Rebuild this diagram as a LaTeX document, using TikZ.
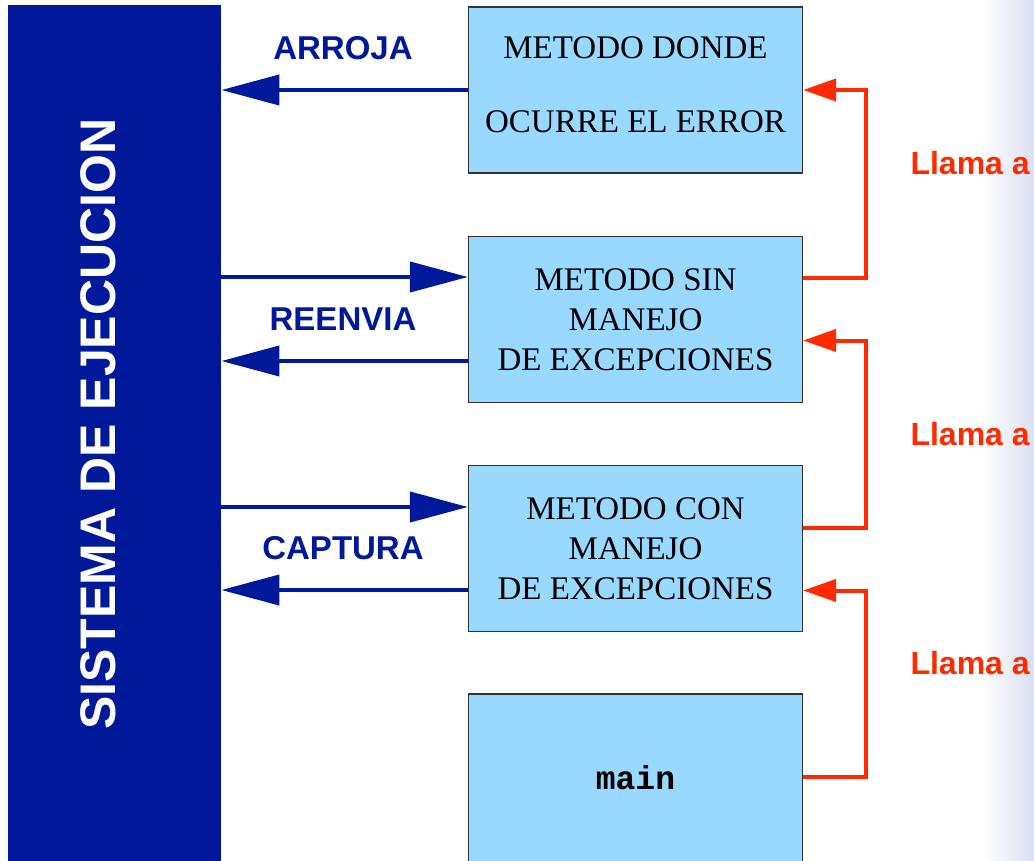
\documentclass[tikz,border=0pt]{standalone}
\usepackage{fontspec}
\setmainfont{Liberation Serif}
\setsansfont{Liberation Sans}
\setmonofont{Liberation Mono}
\usetikzlibrary{arrows.meta}
\definecolor{sysblue}{RGB}{0,24,154}
\definecolor{boxblue}{RGB}{153,216,255}
\definecolor{callred}{RGB}{255,42,0}
\definecolor{edgeblue}{RGB}{220,223,240}
\tikzset{
  metodo/.style={draw=black!80, line width=1.2pt, fill=boxblue, minimum width=334, minimum height=166,
    inner sep=0, align=center, font=\fontsize{33}{40}\selectfont},
  flujo/.style={sysblue, line width=4pt, -{Triangle[length=58pt,width=30pt]}},
  llamada/.style={callred, line width=4pt, -{Triangle[length=33pt,width=22pt]}},
  accion/.style={sysblue, anchor=base, font=\sffamily\bfseries\fontsize{33}{40}\selectfont},
  llama/.style={callred, anchor=base west, font=\sffamily\bfseries\fontsize{32}{40}\selectfont}
}
\begin{document}
\begin{tikzpicture}[x=1pt, y=-1pt]
\useasboundingbox (0,0) rectangle (1034,860);
\shade[left color=white, right color=edgeblue] (980,0) rectangle (1034,860);
\node[fill=sysblue, minimum width=213, minimum height=870, inner sep=0, anchor=north west] (sistema) at (8,5) {};
\node[white, rotate=90, anchor=base, font=\sffamily\bfseries\fontsize{50}{60}\selectfont] (sistematxt) at (115,424) {SISTEMA DE EJECUCION};
% metodos
\node[metodo, text height=100, text depth=16] (error) at (635.5,90) {METODO DONDE\\[34pt]OCURRE EL ERROR};
\node[metodo] (sinmanejo) at (635.5,319.5) {METODO SIN\\MANEJO\\DE EXCEPCIONES};
\node[metodo] (conmanejo) at (635.5,548.5) {METODO CON\\MANEJO\\DE EXCEPCIONES};
\node[metodo, minimum height=168, font=\ttfamily\bfseries\fontsize{33}{40}\selectfont] (main) at (635.5,778) {main};
\coordinate (sinin) at ([yshift=42.5]sinmanejo.west);
\coordinate (sinout) at ([yshift=-41.5]sinmanejo.west);
\coordinate (conin) at ([yshift=41.5]conmanejo.west);
\coordinate (conout) at ([yshift=-41.5]conmanejo.west);
% sistema de ejecucion
\draw[flujo] (error.west) -- (error.west -| sistema.east);
\draw[flujo] (sinin -| sistema.east) -- (sinin);
\draw[flujo] (sinout) -- (sinout -| sistema.east);
\draw[flujo] (conin -| sistema.east) -- (conin);
\draw[flujo] (conout) -- (conout -| sistema.east);
\node[accion] (arroja) at (343,59) {ARROJA};
\node[accion] (reenvia) at (343,330) {REENVIA};
\node[accion] (captura) at (343,559) {CAPTURA};
% llamadas
\draw[llamada] ([yshift=42]sinmanejo.east) -- ++(63,0) |- (error.east);
\draw[llamada] ([yshift=21]conmanejo.east) -- ++(63,0) |- ([yshift=-21]sinmanejo.east);
\draw[llamada] ([yshift=1]main.east) -- ++(63,0) |- ([yshift=-42]conmanejo.east);
\foreach \y/\n in {174/uno, 445/dos, 674/tres}
  \node[llama] (llama\n) at (907,\y) {Llama a};
\end{tikzpicture}
\end{document}
